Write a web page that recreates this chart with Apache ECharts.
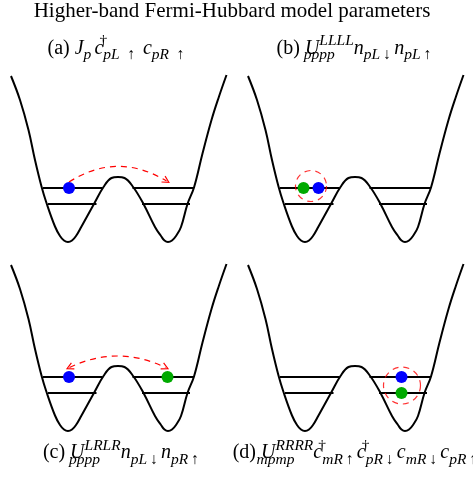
<!DOCTYPE html>
<html><head><meta charset="utf-8">
<script src="https://cdn.jsdelivr.net/npm/echarts@6/dist/echarts.min.js"></script>
<style>html,body{margin:0;padding:0;background:#fff}#c{width:473px;height:479px}</style>
</head><body><div id="c"></div>
<script>
// ---- data ----
// double-well potential (same in all four panels): position x (well units), energy V
const potentialX = [-2.14,-1.96,-1.79,-1.66,-1.53,-1.43,-1.26,-1.16,-1.08,-1.0,-0.92,-0.84,-0.73,-0.47,-0.29,-0.13,0,0.13,0.31,0.51,0.74,0.86,0.93,1.0,1.08,1.16,1.26,1.39,1.52,1.69,1.87,2.02,2.17];
const potentialV = [3.32,2.84,2.24,1.64,1.11,0.78,0.31,0.12,0.03,0,0.03,0.12,0.31,0.78,1.10,1.28,1.30,1.28,1.09,0.76,0.30,0.12,0.03,0,0.03,0.12,0.30,0.76,1.09,1.77,2.44,2.91,3.34];
// band levels: energy and [left-well start, left-well end, right-well start, right-well end]
const levelEnergy = [1.08, 0.76];
const levelSpans = [[-1.50,-0.31,0.29,1.52],[-1.40,-0.43,0.48,1.44]];
// particles per panel (a,b,c,d)
const blueParticles  = [[[-0.98,1.08]], [[-0.73,1.08]], [[-0.98,1.08]], [[0.93,1.08]]];
const greenParticles = [[], [[-1.03,1.08]], [[0.99,1.08]], [[0.93,0.76]]];
// dashed hopping arcs (start, end) for panels a and c
const hopArcA = [[-0.98,1.20],[0.97,1.22]];
const hopArcC = [[-0.97,1.27],[0.95,1.27]];
// dashed interaction circles (centre) for panels b and d
const circleB = [-0.88,1.12];
const circleD = [0.94,0.91];
// texts
const T = '\u2009', E = '\u2002';
const mainTitle = 'Higher-band Fermi-Hubbard model parameters';
const labelA = '{n|(a) }{i|J}{s|p' + T + '}{i|c}{d|†}{s|pL' + E + '↑' + E + '}{i|c}{s|pR' + E + '↑}';
const labelB = '{n|(b) }{i|U}{z|pppp}{u|LLLL}{i|n}{s|pL' + T + '↓' + T + '}{i|n}{s|pL' + T + '↑}';
const labelC = '{n|(c) }{i|U}{z|pppp}{u|LRLR}{i|n}{s|pL' + T + '↓' + T + '}{i|n}{s|pR' + T + '↑}';
const labelD = '{n|(d) }{i|U}{z|mpmp}{u|RRRR}{i|c}{d|†}{s|mR' + T + '↑' + T + '}{i|c}{d|†}{s|pR' + T + '↓' + T + '}{i|c}{s|mR' + T + '↓' + T + '}{i|c}{s|pR' + T + '↑}';

// ---- chart ----
const FF = '"Liberation Serif","Times New Roman",serif';
const BASE = 20, SUB = 15.5, LH = 30;
const rich = {
  n: {fontFamily: FF, fontSize: BASE, lineHeight: LH, color: '#000'},
  i: {fontFamily: FF, fontSize: BASE, fontStyle: 'italic', lineHeight: LH, color: '#000'},
  s: {fontFamily: FF, fontSize: SUB, fontStyle: 'italic', lineHeight: 15, verticalAlign: 'bottom', color: '#000'},
  z: {fontFamily: FF, fontSize: SUB, fontStyle: 'italic', lineHeight: 15, verticalAlign: 'bottom', width: 0, color: '#000'},
  u: {fontFamily: FF, fontSize: SUB, fontStyle: 'italic', lineHeight: 16, verticalAlign: 'top', color: '#000'},
  d: {fontFamily: FF, fontSize: SUB, lineHeight: 16, verticalAlign: 'top', width: 0, color: '#000'}
};
const panels = [{left: 0, top: 67}, {left: 237, top: 67}, {left: 0, top: 256}, {left: 237, top: 256}];
const grid = [], xAxis = [], yAxis = [], series = [];
const arrowPath = 'path://M0,10 L5,0 L10,10 L8.6,10.7 L5,3.2 L1.4,10.7 Z';
panels.forEach((p, k) => {
  grid.push({left: p.left, top: p.top, width: 236, height: 185});
  xAxis.push({gridIndex: k, type: 'value', min: -2.36, max: 2.36, show: false});
  yAxis.push({gridIndex: k, type: 'value', min: -0.2, max: 3.5, show: false});
  series.push({type: 'line', xAxisIndex: k, yAxisIndex: k, data: potentialX.map((x, j) => [x, potentialV[j]]),
    showSymbol: false, smooth: 0.4, lineStyle: {color: '#000', width: 2}, silent: true, z: 2});
  levelEnergy.forEach((En, l) => {
    for (let w = 0; w < 2; w++) {
      series.push({type: 'line', xAxisIndex: k, yAxisIndex: k,
        data: [[levelSpans[l][2 * w], En], [levelSpans[l][2 * w + 1], En]],
        showSymbol: false, lineStyle: {color: '#000', width: 2}, silent: true, z: 2});
    }
  });
  if (k === 0 || k === 2) {
    series.push({type: 'lines', coordinateSystem: 'cartesian2d', xAxisIndex: k, yAxisIndex: k,
      data: [{coords: k === 0 ? hopArcA : hopArcC}],
      symbol: k === 0 ? ['none', arrowPath] : [arrowPath, arrowPath], symbolSize: 8,
      lineStyle: {color: '#ff0000', width: 1.2, type: [6, 5], curveness: k === 0 ? 0.31 : 0.24, opacity: 1},
      silent: true, z: 4});
  } else {
    series.push({type: 'scatter', xAxisIndex: k, yAxisIndex: k, data: [k === 1 ? circleB : circleD],
      symbol: 'circle', symbolSize: k === 1 ? 31 : 37,
      itemStyle: {color: 'rgba(0,0,0,0)', borderColor: '#ff0000', borderWidth: 1.2, borderType: [6, 5]},
      silent: true, z: 4});
  }
  series.push({type: 'scatter', xAxisIndex: k, yAxisIndex: k, data: blueParticles[k], symbolSize: 12,
    itemStyle: {color: '#0000ff', opacity: 1}, silent: true, z: 5});
  series.push({type: 'scatter', xAxisIndex: k, yAxisIndex: k, data: greenParticles[k], symbolSize: 12,
    itemStyle: {color: '#00aa00', opacity: 1}, silent: true, z: 5});
});
function label(text, x, y) {
  return {type: 'text', x: x, y: y, z: 10, silent: true,
    style: {text: text, rich: rich, align: 'center', verticalAlign: 'middle', fill: '#000', fontFamily: FF, fontSize: BASE}};
}
const option = {
  animation: false,
  backgroundColor: '#fff',
  grid, xAxis, yAxis, series,
  graphic: [
    {type: 'text', x: 232, y: 11, z: 10, silent: true,
      style: {text: mainTitle, align: 'center', verticalAlign: 'middle', fill: '#000', fontFamily: FF, fontSize: 21}},
    label(labelA, 116, 48.3),
    label(labelB, 354, 48.3),
    label(labelC, 121, 452.5),
    label(labelD, 355, 452.5)
  ]
};
const chart = echarts.init(document.getElementById('c'), null, {renderer: 'canvas'});
chart.setOption(option);
</script>
</body></html>
